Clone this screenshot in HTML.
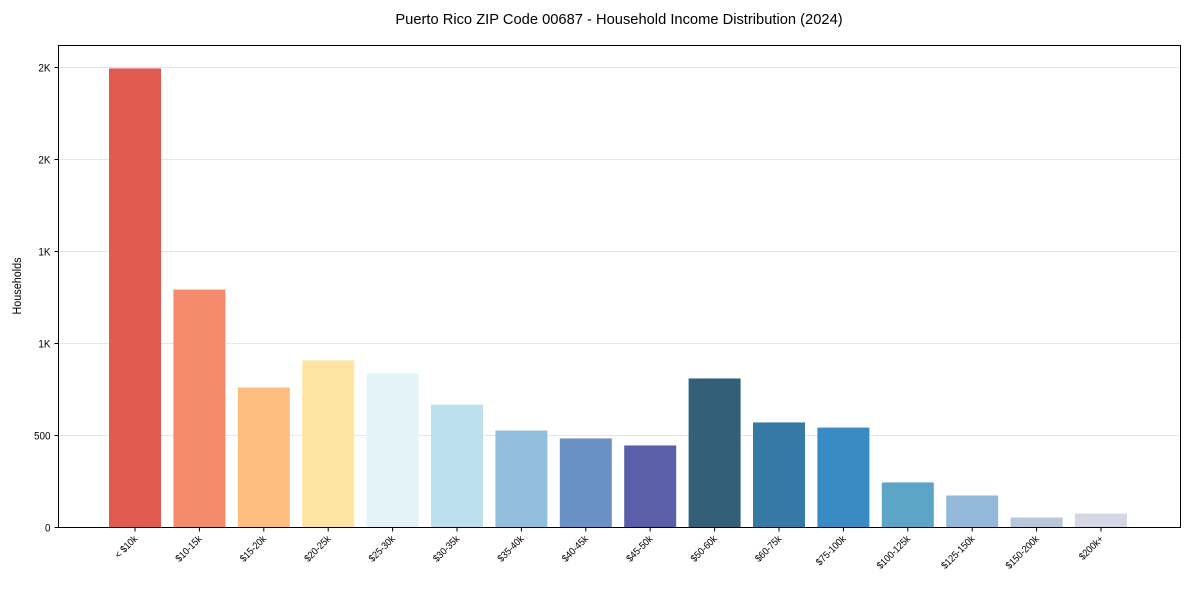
<!DOCTYPE html>
<html><head><meta charset="utf-8"><style>
body{margin:0;background:#fff;font-family:"Liberation Sans",sans-serif;}
</style></head><body>
<svg id="chart" width="1189" height="590" font-family="Liberation Sans, sans-serif">
<text x="619" y="24" text-anchor="middle" font-size="15" transform="translate(619,0) scale(0.98,1) translate(-619,0)">Puerto Rico ZIP Code 00687 - Household Income Distribution (2024)</text>
<text x="0" y="0" font-size="12" text-anchor="middle" transform="translate(21,286) rotate(-90) scale(0.9,1)">Households</text>
<g id="grid"></g><g id="bars"></g><g id="axes"></g>
</svg>
<script>
const categories=["< $10k","$10-15k","$15-20k","$20-25k","$25-30k","$30-35k","$35-40k","$40-45k","$45-50k","$50-60k","$60-75k","$75-100k","$100-125k","$125-150k","$150-200k","$200k+"];
const values=[2495,1293,761,908,837,668,527,484,446,810,571,543,245,174,54,76];
const colors=["#e05a52","#f58b6a","#fdbd7e","#fee5a2","#e3f3f8","#bde0ee","#91bedd","#6a91c4","#5b5ea9","#336079","#3579a6","#388cc3","#5ca5c9","#93b8d9","#b8c7dc","#d5d8e4"];
const yTicks=[0,500,1000,1500,2000,2500];
const yTickLabels=["0","500","1K","1K","2K","2K"];
const NS="http://www.w3.org/2000/svg";
const L=58.5,R=1180.5,T=45.5,B=527.5,step=64.4,x0=135;
const xs=i=>x0+i*step;
const ys=v=>B-v*92/500;
function mk(tag,attrs,parent){const e=document.createElementNS(NS,tag);for(const k in attrs)e.setAttribute(k,attrs[k]);parent.appendChild(e);return e;}
const grid=document.getElementById('grid'),bars=document.getElementById('bars'),axes=document.getElementById('axes');
yTicks.forEach((t,i)=>{
 const y=ys(t);
 if(t>0){const g=mk('line',{x1:L,x2:R,y1:y,y2:y,stroke:'#e6e6e6','stroke-width':1},grid);
 
 }
 const tk=mk('line',{x1:L-4,x2:L,y1:y,y2:y,stroke:'#000'},axes);
 
 
 const tx=mk('text',{x:0,y:0,'text-anchor':'end','font-size':11,transform:`translate(${L-8},${y+4}) scale(0.9,1)`},axes);
 tx.textContent=yTickLabels[i];
 
 
});
values.forEach((v,i)=>{
 const r=mk('rect',{x:xs(i)-26,y:ys(v),width:52,height:B-ys(v),fill:colors[i]},bars);
 
 
 const tk=mk('line',{x1:xs(i),x2:xs(i),y1:B,y2:B+4,stroke:'#000'},axes);
 
 
 const tx=mk('text',{x:0,y:0,'text-anchor':'end','font-size':10,transform:`translate(${xs(i)+3},${B+12}) rotate(-45) scale(0.9,1)`},axes);
 tx.textContent=categories[i];
 
 
});
const fr=mk('rect',{x:L,y:T,width:R-L,height:B-T,fill:'none',stroke:'#000','stroke-width':1},axes);


</script>
</body></html>
